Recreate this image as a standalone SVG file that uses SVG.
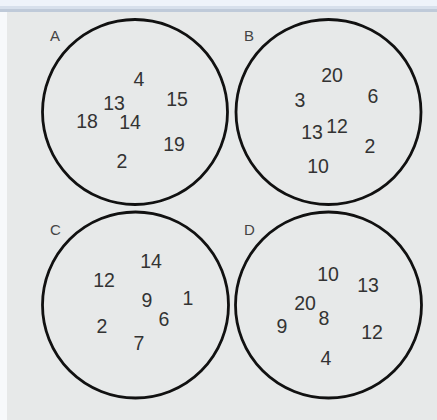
<svg xmlns="http://www.w3.org/2000/svg" width="437" height="420" viewBox="0 0 437 420">
<style>
.c{fill:none;stroke:#111;stroke-width:2.8}
.n{font-family:"Liberation Sans",Arial,sans-serif;font-size:19.5px;fill:#333;text-anchor:middle}
.l{font-family:"Liberation Sans",Arial,sans-serif;font-size:15px;fill:#444}
</style>
<rect x="0" y="0" width="437" height="420" fill="#f7f9fb"/>
<rect x="7" y="0" width="430" height="420" fill="#e7e9e9"/>
<rect x="0" y="0" width="437" height="6" fill="#eef3fa"/>
<rect x="0" y="6" width="437" height="3" fill="#d7e0ec"/>
<rect x="0" y="9" width="437" height="3" fill="#bfcad9"/>
<g id="A">
<circle class="c" cx="135" cy="112" r="92.5"/>
<text class="l" x="50" y="41">A</text>
<text class="n" x="139" y="86">4</text>
<text class="n" x="114" y="110">13</text>
<text class="n" x="177" y="106">15</text>
<text class="n" x="87" y="128">18</text>
<text class="n" x="130" y="129">14</text>
<text class="n" x="174" y="151">19</text>
<text class="n" x="122" y="168">2</text>
</g>
<g id="B">
<circle class="c" cx="328.5" cy="112" r="92.5"/>
<text class="l" x="244" y="41">B</text>
<text class="n" x="332" y="82">20</text>
<text class="n" x="300" y="107">3</text>
<text class="n" x="373" y="103">6</text>
<text class="n" x="312" y="139">13</text>
<text class="n" x="337" y="133">12</text>
<text class="n" x="370" y="153">2</text>
<text class="n" x="318" y="173">10</text>
</g>
<g id="C">
<circle class="c" cx="135.5" cy="305" r="93"/>
<text class="l" x="50" y="235">C</text>
<text class="n" x="151" y="268">14</text>
<text class="n" x="104" y="287">12</text>
<text class="n" x="147" y="307">9</text>
<text class="n" x="188" y="305">1</text>
<text class="n" x="164" y="326">6</text>
<text class="n" x="102" y="333">2</text>
<text class="n" x="139" y="350">7</text>
</g>
<g id="D">
<circle class="c" cx="328.5" cy="305" r="93"/>
<text class="l" x="244" y="235">D</text>
<text class="n" x="328" y="281">10</text>
<text class="n" x="368" y="292">13</text>
<text class="n" x="305" y="310">20</text>
<text class="n" x="324" y="325">8</text>
<text class="n" x="282" y="333">9</text>
<text class="n" x="372" y="339">12</text>
<text class="n" x="326" y="365">4</text>
</g>
<g id="connectors"/>
</svg>
